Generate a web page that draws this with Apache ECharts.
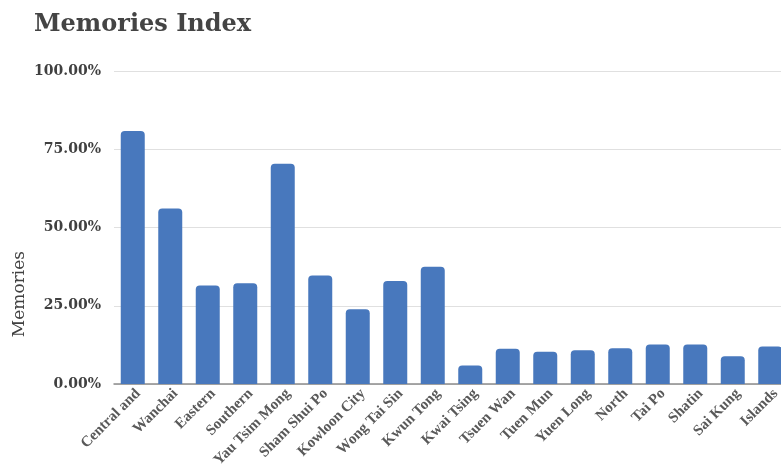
<!DOCTYPE html>
<html>
<head>
<meta charset="utf-8">
<style>
  html, body { margin: 0; padding: 0; background: #ffffff; }
  #chart { width: 781px; height: 467px; }
</style>
<script src="https://cdn.jsdelivr.net/npm/echarts@6/dist/echarts.min.js"></script>
</head>
<body>
<div id="chart"></div>
<script>
// Districts on the category axis
const districts = [
  'Central and', 'Wanchai', 'Eastern', 'Southern', 'Yau Tsim Mong',
  'Sham Shui Po', 'Kowloon City', 'Wong Tai Sin', 'Kwun Tong', 'Kwai Tsing',
  'Tsuen Wan', 'Tuen Mun', 'Yuen Long', 'North', 'Tai Po', 'Shatin',
  'Sai Kung', 'Islands'
];

// Memories index per district, in percent
const memories = [
  80.8, 56.1, 31.5, 32.2, 70.4,
  34.7, 23.9, 32.9, 37.5, 5.9,
  11.3, 10.3, 10.8, 11.4, 12.6, 12.6,
  8.9, 12.0
];

// Value-axis ticks (percent)
const yTicks = [0, 25, 50, 75, 100];

const serif = '"DejaVu Serif", "Liberation Serif", serif';
const narrowSerif = '"Liberation Serif", "DejaVu Serif", serif';

const chart = echarts.init(document.getElementById('chart'), null, { renderer: 'canvas' });

chart.setOption({
  backgroundColor: '#ffffff',
  animation: false,
  title: {
    text: 'Memories Index',
    left: 29,
    top: 8,
    textStyle: {
      fontFamily: serif,
      fontSize: 24,
      fontWeight: 'bold',
      color: '#444444'
    }
  },
  graphic: [{
    type: 'text',
    left: 11,
    top: 251,
    rotation: Math.PI / 2,
    style: {
      text: 'Memories',
      font: '17px ' + serif,
      fill: '#404040'
    }
  }],
  grid: {
    left: 114,
    top: 71,
    width: 675,
    height: 313,
    outerBoundsMode: 'none',
    containLabel: false
  },
  xAxis: {
    type: 'category',
    data: districts,
    axisLine: { lineStyle: { color: '#8c8c8c', width: 1.5 } },
    axisTick: { show: false },
    axisLabel: {
      rotate: 45,
      interval: 0,
      margin: 2,
      verticalAlign: 'top',
      fontFamily: narrowSerif,
      fontWeight: 'bold',
      fontSize: 15,
      color: '#595959'
    }
  },
  yAxis: {
    type: 'value',
    min: yTicks[0],
    max: yTicks[yTicks.length - 1],
    interval: yTicks[1] - yTicks[0],
    axisLine: { show: false },
    axisTick: { show: false },
    splitLine: { lineStyle: { color: '#e0e0e0', width: 1 } },
    axisLabel: {
      margin: 13,
      fontFamily: serif,
      fontWeight: 'bold',
      fontSize: 14,
      color: '#404040',
      formatter: v => v.toFixed(2) + '%'
    }
  },
  series: [{
    type: 'bar',
    data: memories,
    barWidth: 24,
    itemStyle: {
      color: '#4878bd',
      borderRadius: [4, 4, 0, 0]
    }
  }]
});
</script>
</body>
</html>
